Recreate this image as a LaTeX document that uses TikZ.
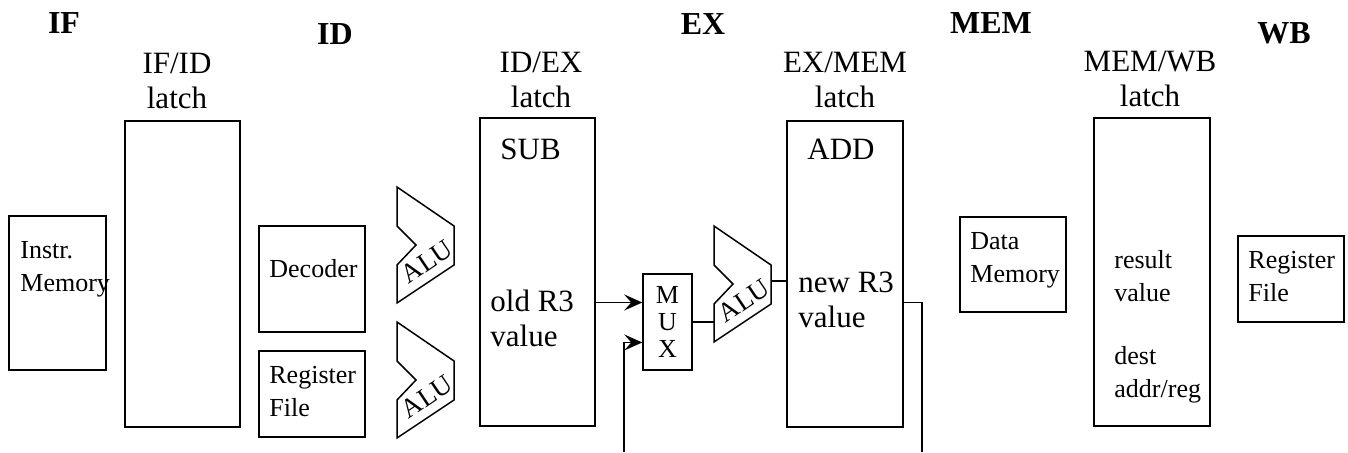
\documentclass[tikz,border=0pt]{standalone}
\usepackage{fontspec}
\setmainfont{Liberation Serif}
\usetikzlibrary{arrows.meta,fit,calc}

\tikzset{
  wire/.style={line width=0.75pt},
  box/.style={draw, line width=0.75pt, inner sep=0pt},
  lbl/.style={inner sep=0pt, align=left, anchor=base west, font=\fontsize{15.5}{17.5}\selectfont},
  sml/.style={lbl, font=\fontsize{13}{16.5}\selectfont},
  stage/.style={inner sep=0pt, anchor=base, font=\fontsize{16}{18}\selectfont\bfseries},
  latchname/.style={inner sep=0pt, align=center, anchor=base, font=\fontsize{15.5}{17.5}\selectfont},
  arr/.style={wire, -{Stealth[length=9pt,width=8pt,inset=3.5pt]}},
  alu/.pic={
    \draw[wire] (0,0) -- (57,39) -- (57,78) -- (0,116) -- (0,78) -- (19,58) -- (0,39) -- cycle;
    \node[inner sep=0pt, rotate=34, font=\fontsize{13.5}{14}\selectfont] at (30,75) {ALU};
    \coordinate (-in) at (0,96);
    \coordinate (-out) at (57,55);
  }
}

\begin{document}
\begin{tikzpicture}[x=0.5pt,y=-0.5pt]
    \useasboundingbox (0,0) rectangle (1348,453);

    % stage names
    \node[stage] (sif)  at (64,34)    {IF};
    \node[stage] (sid)  at (335,45)   {ID};
    \node[stage] (sex)  at (703,35)   {EX};
    \node[stage] (smem) at (991,34)   {MEM};
    \node[stage] (swb)  at (1284,44)  {WB};

    % pipeline latches (labels sit on the baseline of "latch")
    \node[box, fit={(125,121) (240,427)}]  (ifid)  {};
    \node[box, fit={(480,118) (595,426)}]  (idex)  {};
    \node[box, fit={(787,121) (903,427)}]  (exmem) {};
    \node[box, fit={(1094,118) (1210,426)}] (memwb) {};
    \node[latchname] (lifid)  at (177,109)  {IF/ID\\latch};
    \node[latchname] (lidex)  at (541,108)  {ID/EX\\latch};
    \node[latchname] (lexmem) at (845,108)  {EX/MEM\\latch};
    \node[latchname] (lmemwb) at (1150,107) {MEM/WB\\latch};

    % IF
    \node[box, fit={(9,216) (106,370)}] (imem) {};
    \node[sml] (timem) at (20,292) {Instr.\\Memory};

    % ID
    \node[box, fit={(259,226) (365,332)}] (dec) {};
    \node[sml] (tdec) at (269,278) {Decoder};
    \node[box, fit={(259,351) (365,437)}] (regs) {};
    \node[sml] (tregs) at (269,417) {Register\\File};
    \pic (alua) at (397,187) {alu};
    \pic (alub) at (397,322) {alu};

    % ID/EX contents
    \node[lbl] (tsub) at (500,160) {SUB};
    \node[lbl] (told) at (490,347) {old R3\\value};

    % EX
    \node[box, fit={(643,274) (692,370)}] (mux) {};
    \node[inner sep=0pt, align=center, anchor=base, font=\fontsize{13}{13.5}\selectfont]
        (tmux) at (667.5,358) {M\\U\\X};
    \pic (alue) at (714,226) {alu};

    % EX/MEM contents
    \node[lbl] (tadd) at (807,160) {ADD};
    \node[lbl] (tnew) at (798,328) {new R3\\value};

    % MEM
    \node[box, fit={(960,217) (1066,312)}] (dmem) {};
    \node[sml] (tdmem) at (970,283) {Data\\Memory};
    \node[sml] (tres)  at (1114,302) {result\\value};
    \node[sml] (tdest) at (1114,398) {dest\\addr/reg};

    % WB
    \node[box, fit={(1238,236) (1344,322)}] (wbregs) {};
    \node[sml] (twb) at (1248,302) {Register\\File};

    % forwarding paths
    \coordinate (muxa) at ($(mux.north west)!0.3!(mux.south west)$);
    \coordinate (muxb) at ($(mux.north west)!0.71!(mux.south west)$);
    \coordinate (fwdin)  at (624,452);
    \coordinate (fwdout) at (922,452);
    \draw[arr] (idex.east |- muxa) -- (muxa);
    \draw[arr] (fwdin) |- (muxb);
    \draw[wire] (mux.east) -- (alue-in);
    \draw[wire] (alue-out) -- (exmem.west |- alue-out);
    \draw[wire] (exmem.east |- muxa) -| (fwdout);

\end{tikzpicture}
\end{document}
